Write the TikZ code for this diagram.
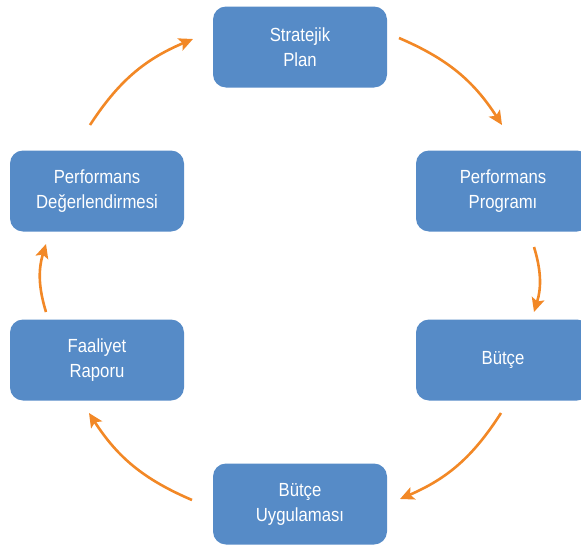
\documentclass[tikz,border=0pt]{standalone}
\usepackage{fontspec}
\setmainfont{Liberation Sans}[FakeStretch=0.88]
\usetikzlibrary{arrows.meta, positioning}
\definecolor{kutu}{RGB}{86,139,199}
\definecolor{ok}{RGB}{242,136,38}
\begin{document}
\begin{tikzpicture}[x=1pt,y=1pt,
      n/.style={rectangle, rounded corners=13pt, fill=kutu, text=white, align=center,
        minimum width=174pt, minimum height=81pt, font=\fontsize{19}{25}\selectfont},
      a/.style={draw=ok, line width=2.6pt, -{Stealth[length=14pt,width=13pt,inset=3pt]}, bend left=17}]
      \useasboundingbox (0,0) rectangle (581,-546);
      \node[n] (sp) at (300,-47) {Stratejik\\Plan};
      \node[n] (pp) at (503,-191) {Performans\\Programı};
      \node[n] (bt) at (503,-360) {Bütçe};
      \node[n] (bu) at (300,-504) {Bütçe\\Uygulaması};
      \node[n] (fr) at (97,-360) {Faaliyet\\Raporu};
      \node[n] (pd) at (97,-191) {Performans\\Değerlendirmesi};
      % ok uclari
      \coordinate (a1) at (399,-38);  \coordinate (b1) at (502,-125);
      \coordinate (a2) at (534,-247); \coordinate (b2) at (534,-312);
      \coordinate (a3) at (501,-413); \coordinate (b3) at (400,-499);
      \coordinate (a4) at (192,-500); \coordinate (b4) at (89,-413);
      \coordinate (a5) at (46,-312);  \coordinate (b5) at (46,-244);
      \coordinate (a6) at (90,-125);  \coordinate (b6) at (193,-39);
      \draw[a] (a1) to (b1);
      \draw[a] (a2) to (b2);
      \draw[a] (a3) to (b3);
      \draw[a] (a4) to (b4);
      \draw[a] (a5) to (b5);
      \draw[a] (a6) to (b6);
\end{tikzpicture}
\end{document}
